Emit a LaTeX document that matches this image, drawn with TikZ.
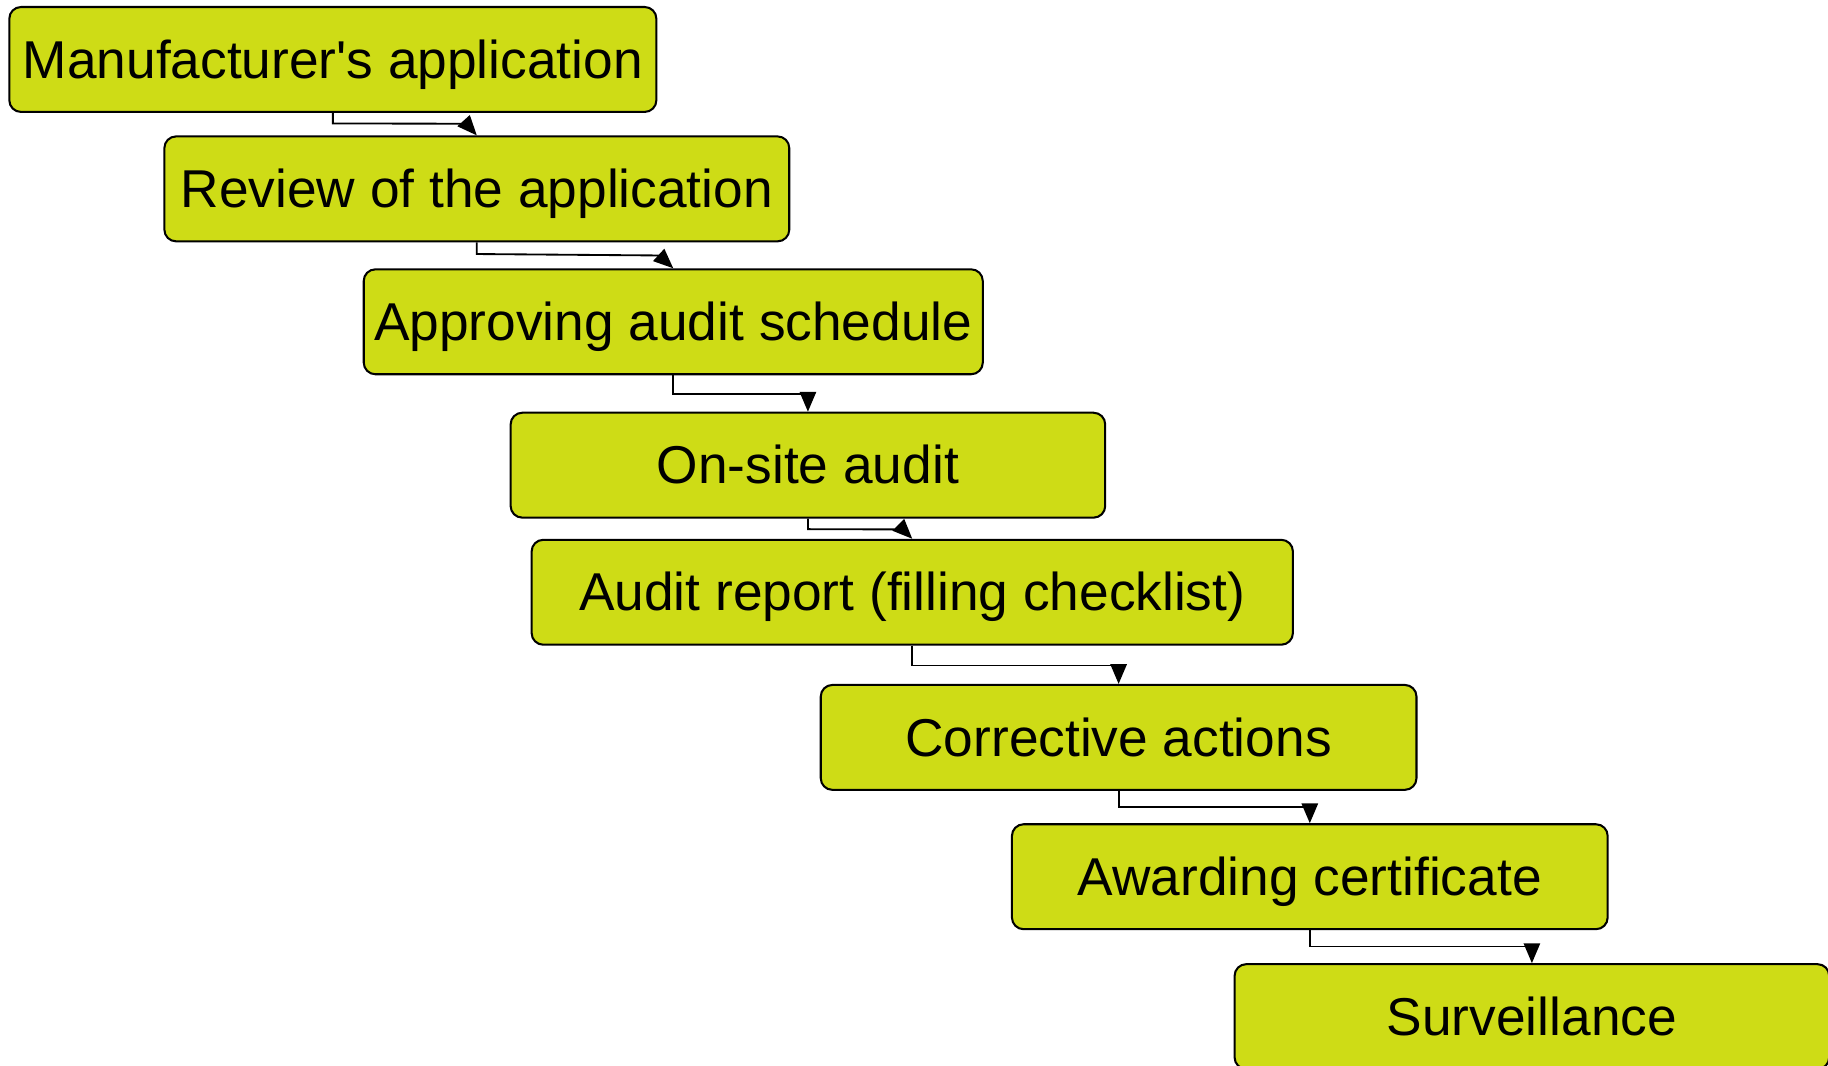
\documentclass[tikz,border=0pt]{standalone}
\usepackage{fontspec}
\setmainfont{Liberation Sans}
\usetikzlibrary{arrows.meta,calc}
\definecolor{stagegreen}{RGB}{206,220,22}
\begin{document}
\begin{tikzpicture}[
    stage/.style = {shape=rectangle, rounded corners=1mm,
      draw, line width=0.5pt, fill=stagegreen,
      minimum height=0.9cm, inner sep=0pt,
      text height=11.8pt, text depth=2.7pt,
      font=\fontsize{13}{15}\selectfont},
    flow/.style = {-{Triangle[length=1.7mm,width=1.4mm]}, line width=0.45pt}]
    \useasboundingbox (0,0) rectangle (15.68,-9.14);
    \node[stage, minimum width=5.55cm] (apply) at (2.855,-0.51) {Manufacturer\textquotesingle s application};
    \node[stage, minimum width=5.36cm] (review) at (4.09,-1.62) {Review of the application};
    \node[stage, minimum width=5.31cm] (schedule) at (5.775,-2.76) {Approving audit schedule};
    \node[stage, minimum width=5.10cm] (onsite) at (6.93,-3.99) {On-site audit};
    \node[stage, minimum width=6.53cm] (report) at (7.825,-5.08) {Audit report (filling checklist)};
    \node[stage, minimum width=5.11cm] (corrective) at (9.595,-6.325) {Corrective actions};
    \node[stage, minimum width=5.11cm] (award) at (11.235,-7.52) {Awarding certificate};
    \node[stage, minimum width=5.10cm] (surveil) at (13.14,-8.72) {Surveillance};
    \draw[flow] (apply.south) -- ++(0,-0.09) -- ($(review.north)+(-0.09,0.10)$) -- (review.north);
    \draw[flow] (review.south) -- ++(0,-0.10) -- ($(schedule.north)+(-0.12,0.11)$) -- (schedule.north);
    \draw[flow] (schedule.south) -- ++(0,-0.16) -| (onsite.north);
    \draw[flow] (onsite.south) -- ++(0,-0.09) -- ($(report.north)+(-0.08,0.08)$) -- (report.north);
    \draw[flow] (report.south) -- ++(0,-0.17) -| (corrective.north);
    \draw[flow] (corrective.south) -- ++(0,-0.14) -| (award.north);
    \draw[flow] (award.south) -- ++(0,-0.14) -| (surveil.north);
\end{tikzpicture}
\end{document}
